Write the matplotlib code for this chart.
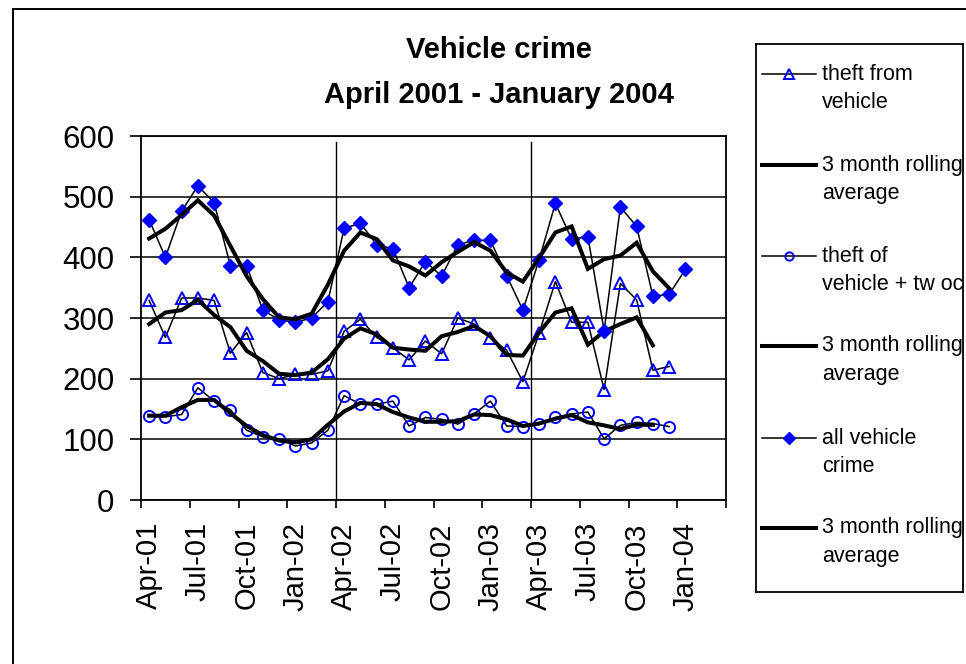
import matplotlib
matplotlib.use('Agg')
import matplotlib.pyplot as plt
from matplotlib.patches import Rectangle

plt.rcParams['font.family'] = ['Liberation Sans', 'DejaVu Sans']

# meses (abril 2001 - enero 2004), etiquetas cada 3 meses
month_labels = ['Apr-01', 'Jul-01', 'Oct-01', 'Jan-02', 'Apr-02', 'Jul-02',
                'Oct-02', 'Jan-03', 'Apr-03', 'Jul-03', 'Oct-03', 'Jan-04']

theft_from = [329, 268, 333, 333, 329, 242, 276, 210, 200, 207, 207, 213,
              278, 298, 268, 251, 231, 262, 241, 300, 290, 267, 247, 195,
              275, 360, 293, 293, 182, 357, 330, 214, 220]
theft_from_avg = [290, 309, 313, 330, 305, 285, 246, 229, 208, 206, 210, 232,
                  266, 283, 273, 251, 248, 246, 270, 277, 287, 270, 239, 238,
                  276, 309, 316, 256, 278, 290, 301, 255]

theft_of = [138, 137, 141, 185, 163, 149, 115, 104, 101, 89, 94, 115,
            172, 158, 158, 163, 122, 136, 133, 125, 142, 163, 122, 121,
            125, 136, 142, 145, 101, 123, 128, 126, 121]
theft_of_avg = [139, 139, 153, 165, 165, 143, 122, 107, 98, 95, 100, 124,
                146, 160, 158, 145, 136, 129, 129, 130, 141, 140, 133, 122,
                126, 134, 140, 128, 123, 117, 124, 124]

all_vehicle = [462, 400, 476, 518, 490, 386, 386, 313, 297, 293, 300, 327,
               448, 456, 421, 414, 350, 393, 369, 421, 428, 428, 370, 313,
               396, 489, 430, 434, 279, 483, 451, 336, 339, 380]
all_avg = [431, 447, 470, 494, 469, 419, 369, 331, 301, 298, 307, 355,
           411, 441, 430, 395, 385, 370, 392, 409, 425, 411, 375, 360,
           399, 441, 451, 381, 397, 403, 424, 377, 349]

legend_labels = ['theft from\nvehicle', '3 month rolling\naverage',
                 'theft of\nvehicle + tw oc', '3 month rolling\naverage',
                 'all vehicle\ncrime', '3 month rolling\naverage']

blue = '#0000FF'
W, H = 966, 664

fig = plt.figure(figsize=(W / 100, H / 100), dpi=100)
ax = fig.add_axes([141 / W, 1 - 500 / H, (726 - 141) / W, (500 - 136) / H])

# estilos de cada serie (linea fina con marcadores / media movil gruesa)
thin_tri = dict(color='black', lw=1.1, marker='^', ms=8.6, mec=blue, mfc='none', mew=1.4)
thin_circ = dict(color='black', lw=1.1, marker='o', ms=8, mec=blue, mfc='none', mew=1.4)
thin_diam = dict(color='black', lw=1.1, marker='D', ms=6.8, mec=blue, mfc=blue)
thick = dict(color='black', lw=2.9, solid_joinstyle='miter')

ax.plot(range(len(theft_from)), theft_from, zorder=3, **thin_tri)
ax.plot(range(len(theft_from_avg)), theft_from_avg, zorder=4, **thick)
ax.plot(range(len(theft_of)), theft_of, zorder=5, **thin_circ)
ax.plot(range(len(theft_of_avg)), theft_of_avg, zorder=6, **thick)
ax.plot(range(len(all_vehicle)), all_vehicle, zorder=7, **thin_diam)
ax.plot(range(len(all_avg)), all_avg, zorder=8, **thick)

# lineas verticales de inicio de año fiscal
for xv in (11.5, 23.5):
    ax.axvline(xv, ymin=0, ymax=0.984, color='black', lw=1.0, zorder=2)

ax.set_xlim(-0.5, 35.5)
ax.set_ylim(0, 600)
ax.set_yticks(range(0, 601, 100))
ax.yaxis.grid(True, color='black', lw=1.1)
ax.set_axisbelow(True)

ax.set_xticks([i - 0.5 for i in range(0, 37, 3)])
ax.set_xticklabels([])
ax.set_xticks(range(0, 34, 3), minor=True)
ax.set_xticklabels(month_labels, minor=True, rotation=90, fontsize=21)
ax.tick_params(axis='x', which='major', direction='out', length=6, width=1.2)
ax.tick_params(axis='x', which='minor', length=0, pad=16)
ax.tick_params(axis='y', direction='out', length=8, width=1.2, pad=11,
               labelsize=22.5)
for s in ax.spines.values():
    s.set_linewidth(1.3)
    s.set_color('black')

# titulo
fig.text(498.5 / W, 1 - 58 / H, 'Vehicle crime', ha='center', va='baseline',
         fontsize=21, fontweight='bold')
fig.text(498.5 / W, 1 - 103 / H, 'April 2001 - January 2004', ha='center',
         va='baseline', fontsize=21, fontweight='bold')

# leyenda manual (la marca alineada con la primera linea del texto)
lax = fig.add_axes([756 / W, 1 - 592 / H, (963 - 756) / W, (592 - 44) / H])
lax.set_xlim(756, 963)
lax.set_ylim(592, 44)
lax.set_xticks([])
lax.set_yticks([])
for s in lax.spines.values():
    s.set_linewidth(1.3)

legend_styles = [dict(thin_tri, ms=7.5), thick, dict(thin_circ, ms=6),
                 thick, dict(thin_diam, ms=6.5), thick]
entry_y = [74, 165, 256, 346, 438, 528]
for lab, st, y in zip(legend_labels, legend_styles, entry_y):
    lax.plot([762, 816], [y, y], color='black', lw=st['lw'])
    if 'marker' in st:
        mk = {k: v for k, v in st.items() if k not in ('lw', 'color')}
        lax.plot([789], [y], ls='none', **mk)
    for j, line in enumerate(lab.split('\n')):
        lax.text(822, y + 28.5 * j, line, va='center', ha='left', fontsize=15.5,
                 clip_on=True)

# borde exterior del grafico
fig.add_artist(Rectangle((13 / W, -0.1), 1.2, 1.1 - 9 / H, fill=False,
                         lw=1.4, ec='black', transform=fig.transFigure))

fig.savefig('out.png', dpi=100)
